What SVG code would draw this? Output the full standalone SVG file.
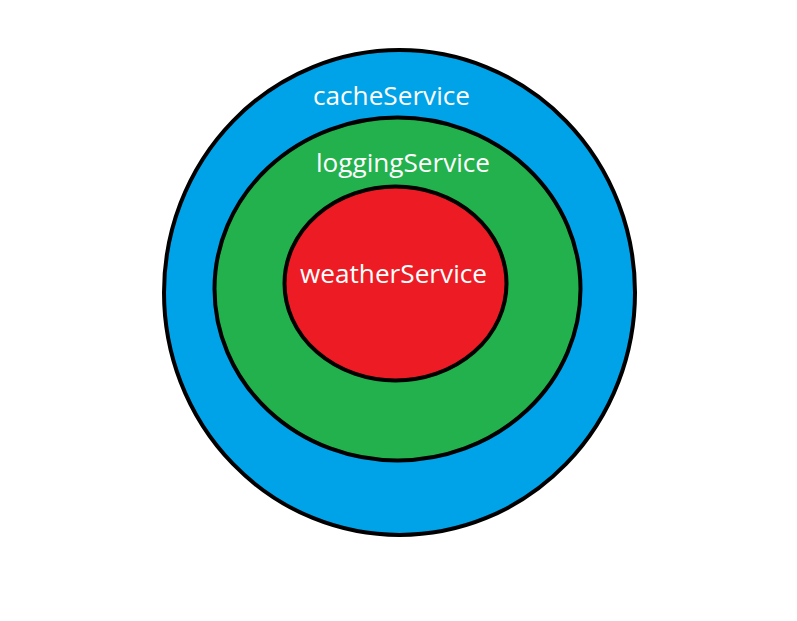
<svg xmlns="http://www.w3.org/2000/svg" width="797" height="621" viewBox="0 0 797 621">
<style>
.ring{stroke:#000;stroke-width:4}
.lbl{font-family:"Open Sans","Noto Sans","Liberation Sans",sans-serif;font-size:25px;fill:#fff}
</style>
<rect width="797" height="621" fill="#fff"/>
<g id="cacheService">
<ellipse class="ring" cx="399.5" cy="292.5" rx="235.5" ry="242.5" fill="#00A2E8"/>
<text class="lbl" x="313" y="105" textLength="157" lengthAdjust="spacingAndGlyphs">cacheService</text>
</g>
<g id="loggingService">
<ellipse class="ring" cx="397.5" cy="289" rx="183" ry="171.5" fill="#22B14C"/>
<text class="lbl" x="316" y="172" textLength="174" lengthAdjust="spacingAndGlyphs">loggingService</text>
</g>
<g id="weatherService">
<ellipse class="ring" cx="395.5" cy="283.5" rx="111" ry="97" fill="#ED1C24"/>
<text class="lbl" x="300" y="283" textLength="187" lengthAdjust="spacingAndGlyphs">weatherService</text>
</g>
<g id="connectors"/>
</svg>
